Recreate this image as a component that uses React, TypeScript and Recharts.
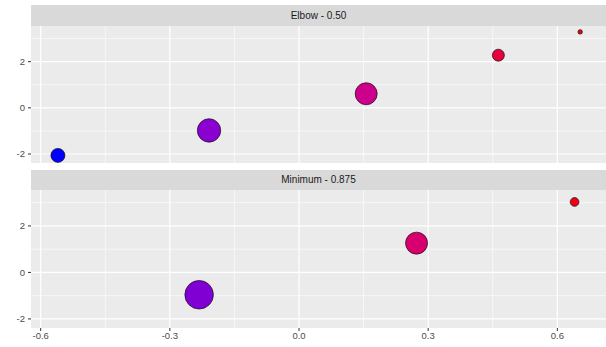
import React from 'react';
import { ScatterChart, Scatter, XAxis, YAxis, ZAxis, CartesianGrid, Cell } from 'recharts';

// Facet labels
const panelLabels = ['Elbow - 0.50', 'Minimum - 0.875'];

// Elbow panel points
const elbowX = [-0.56, -0.209, 0.156, 0.463, 0.653];
const elbowY = [-2.06, -0.98, 0.61, 2.28, 3.29];
const elbowW = [49, 137, 121, 36, 5];

// Minimum panel points
const minX = [-0.232, 0.273, 0.64];
const minY = [-0.96, 1.26, 3.03];
const minW = [204, 121, 19];

// Axis ticks
const xTicks = [-0.6, -0.3, 0, 0.3, 0.6];
const xMinor = [-0.45, -0.15, 0.15, 0.45];
const yTicks = [-2, 0, 2];
const yMinor = [-1, 1, 3];

const X_DOMAIN: [number, number] = [-0.6225, 0.713];
const Y_DOMAIN: [number, number] = [-2.39, 3.545];
const W_MAX = 204;
const FONT = '"Liberation Sans", Arial, sans-serif';

// colour scale (blue -> red) on x
const stops: [number, [number, number, number]][] = [
  [0, [0, 0, 255]],
  [0.29, [138, 0, 208]],
  [0.6, [208, 0, 136]],
  [0.84, [232, 0, 60]],
  [1, [240, 0, 16]],
];
const C_LOW = -0.56;
const C_HIGH = 0.66;
function colorOf(x: number) {
  let t = (x - C_LOW) / (C_HIGH - C_LOW);
  t = Math.max(0, Math.min(1, t));
  for (let i = 1; i < stops.length; i++) {
    if (t <= stops[i][0]) {
      const [t0, c0] = stops[i - 1];
      const [t1, c1] = stops[i];
      const f = (t - t0) / (t1 - t0);
      const c = c0.map((v, k) => Math.round(v + (c1[k] - v) * f));
      return `rgb(${c[0]},${c[1]},${c[2]})`;
    }
  }
  return 'rgb(240,0,16)';
}

const build = (xs: number[], ys: number[], ws: number[]) =>
  xs.map((x, i) => ({ x, y: ys[i], w: ws[i] }));

const elbowData = build(elbowX, elbowY, elbowW);
const minData = build(minX, minY, minW);

const tickStyle = { fill: '#4D4D4D', fontSize: 9.5, fontFamily: FONT };

function Panel({ data, showX, height }: { data: any[]; showX: boolean; height: number }) {
  return (
    <ScatterChart width={606} height={height} margin={{ top: 0, right: 0, bottom: 0, left: 0 }}>
      <CartesianGrid
        fill="#EBEBEB"
        stroke="#FFFFFF"
        strokeWidth={0.6}
        horizontalValues={yMinor}
        verticalValues={xMinor}
      />
      <CartesianGrid
        fill="none"
        stroke="#FFFFFF"
        strokeWidth={1.2}
        horizontalValues={yTicks}
        verticalValues={xTicks}
      />
      <XAxis
        type="number"
        dataKey="x"
        domain={X_DOMAIN}
        ticks={xTicks}
        allowDataOverflow
        hide={!showX}
        height={20}
        axisLine={false}
        tickSize={3}
        tickMargin={1}
        tickLine={{ stroke: '#333333' }}
        tick={tickStyle}
        tickFormatter={(v: number) => v.toFixed(1)}
        interval={0}
      />
      <YAxis
        type="number"
        dataKey="y"
        domain={Y_DOMAIN}
        ticks={yTicks}
        allowDataOverflow
        width={31}
        axisLine={false}
        tickSize={3}
        tickMargin={3}
        tickLine={{ stroke: '#333333' }}
        tick={tickStyle}
        interval={0}
      />
      <ZAxis type="number" dataKey="w" domain={[0, W_MAX]} range={[0, W_MAX * Math.PI]} />
      <Scatter data={data} isAnimationActive={false} stroke="#111111" strokeWidth={0.7}>
        {data.map((d, i) => (
          <Cell key={i} fill={colorOf(d.x)} />
        ))}
      </Scatter>
    </ScatterChart>
  );
}

const stripStyle = (top: number, h: number): React.CSSProperties => ({
  position: 'absolute',
  left: 31,
  top,
  width: 575,
  height: h,
  background: '#D9D9D9',
  color: '#1A1A1A',
  fontFamily: FONT,
  fontSize: 10,
  lineHeight: `${h}px`,
  textAlign: 'center',
});

export default function App() {
  return (
    <div
      style={{
        position: 'absolute',
        left: 0,
        top: 0,
        width: 606,
        height: 347,
        background: '#FFFFFF',
        overflow: 'hidden',
      }}
    >
      <div style={stripStyle(5, 21)}>{panelLabels[0]}</div>
      <div style={{ position: 'absolute', left: 0, top: 26 }}>
        <Panel data={elbowData} showX={false} height={137} />
      </div>
      <div style={stripStyle(170, 20)}>{panelLabels[1]}</div>
      <div style={{ position: 'absolute', left: 0, top: 190 }}>
        <Panel data={minData} showX={true} height={158} />
      </div>
    </div>
  );
}
